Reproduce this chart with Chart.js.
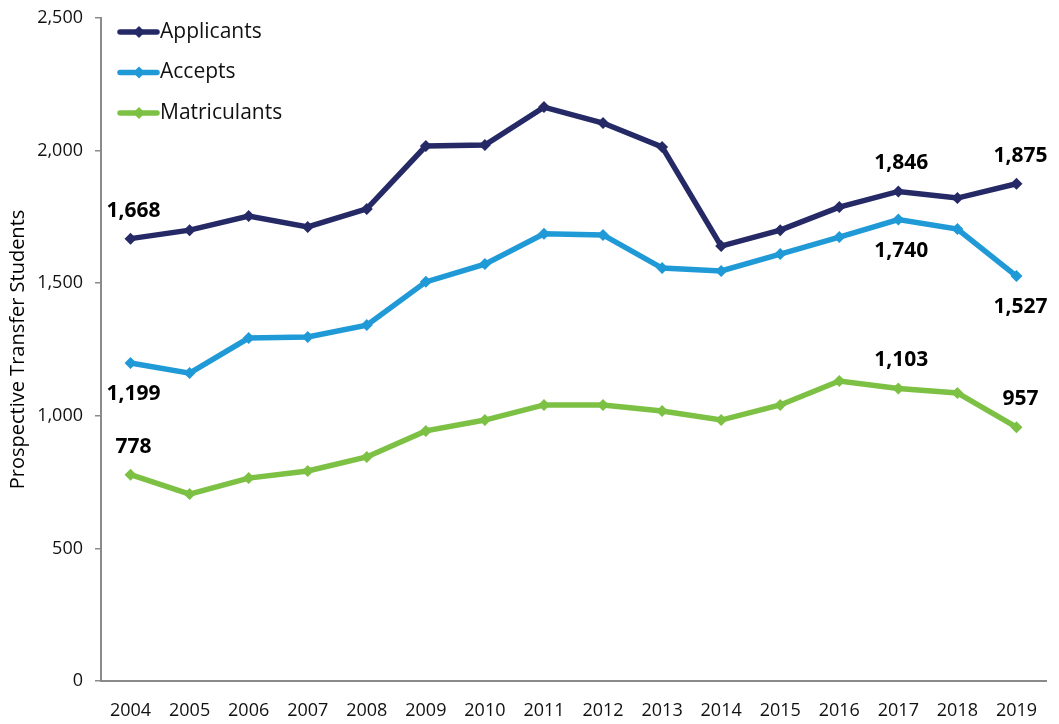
<!DOCTYPE html>
<html>
<head>
<meta charset="utf-8">
<style>
  html, body { margin: 0; padding: 0; background: #fff; }
  #wrap { width: 1059px; height: 724px; }
</style>
<script src="https://cdn.jsdelivr.net/npm/chart.js@4/dist/chart.umd.min.js"></script>
</head>
<body>
<div id="wrap"><canvas id="chart" width="1059" height="724"></canvas></div>
<script>
'use strict';

// ***** DATA *****
let years = ['2004', '2005', '2006', '2007', '2008', '2009', '2010', '2011',
  '2012', '2013', '2014', '2015', '2016', '2017', '2018', '2019'];
let applicants = [1668, 1700, 1753, 1712, 1780, 2017, 2021, 2164, 2104, 2014, 1640, 1700, 1787, 1846, 1821, 1875];
let accepts = [1199, 1161, 1293, 1297, 1342, 1505, 1572, 1686, 1682, 1557, 1546, 1610, 1674, 1740, 1704, 1527];
let matriculants = [778, 705, 765, 792, 845, 943, 984, 1041, 1041, 1018, 984, 1041, 1131, 1103, 1086, 957];
let seriesNames = ['Applicants', 'Accepts', 'Matriculants'];
let seriesColors = ['#252a67', '#209ad7', '#7cc144'];
let yTicks = [0, 500, 1000, 1500, 2000, 2500];

// which points get a value label, and whether above or below
let labelIndexes = [0, 13, 15];
let labelBelow = [false, true, false];

let fontName = '"Open Sans", "Noto Sans", sans-serif';

// ***** PLUGINS *****
let valueLabels = {
  id: 'valueLabels',
  afterDatasetsDraw(chart) {
    let ctx = chart.ctx;
    ctx.save();
    ctx.font = 'bold 21px ' + fontName;
    ctx.fillStyle = '#000';
    ctx.textAlign = 'center';
    ctx.textBaseline = 'middle';
    chart.data.datasets.forEach((ds, d) => {
      let meta = chart.getDatasetMeta(d);
      labelIndexes.forEach(i => {
        let pt = meta.data[i];
        let txt = ds.data[i].toLocaleString('en-US');
        let dy = labelBelow[d] ? 31 : -28;
        let dx = i === 15 ? 4 : 3;
        ctx.fillText(txt, pt.x + dx, pt.y + dy);
      });
    });
    ctx.restore();
  }
};

let cornerLegend = {
  id: 'cornerLegend',
  afterDraw(chart) {
    let ctx = chart.ctx;
    let left = chart.chartArea.left;
    let top = chart.chartArea.top;
    ctx.save();
    ctx.font = '21px ' + fontName;
    ctx.textBaseline = 'middle';
    seriesNames.forEach((name, i) => {
      let y = top + 14 + i * 40.5;
      ctx.strokeStyle = seriesColors[i];
      ctx.fillStyle = seriesColors[i];
      ctx.lineWidth = 5.5;
      ctx.lineCap = 'round';
      ctx.beginPath();
      ctx.moveTo(left + 19, y);
      ctx.lineTo(left + 56, y);
      ctx.stroke();
      ctx.beginPath();
      ctx.moveTo(left + 38, y - 6);
      ctx.lineTo(left + 44, y);
      ctx.lineTo(left + 38, y + 6);
      ctx.lineTo(left + 32, y);
      ctx.closePath();
      ctx.fill();
      ctx.fillStyle = '#111';
      ctx.fillText(name, left + 59, y);
    });
    ctx.restore();
  }
};

// ***** CHART *****
let datasets = [applicants, accepts, matriculants].map((vals, i) => ({
  label: seriesNames[i],
  data: vals,
  borderColor: seriesColors[i],
  backgroundColor: seriesColors[i],
  borderWidth: 5.5,
  pointStyle: 'rectRot',
  pointRadius: 6,
  pointHoverRadius: 6,
  pointBorderWidth: 0,
  tension: 0
}));

new Chart(document.getElementById('chart'), {
  type: 'line',
  data: { labels: years, datasets: datasets },
  options: {
    responsive: false,
    animation: false,
    layout: { padding: { top: 18, right: 13, left: 2, bottom: 0 } },
    plugins: {
      legend: { display: false },
      tooltip: { enabled: false }
    },
    scales: {
      x: {
        offset: true,
        afterFit(scale) {
          scale.height = 43;
        },
        grid: { display: false, drawTicks: false },
        border: { display: true, color: '#8a8a8a', width: 2 },
        ticks: { color: '#111', font: { family: fontName, size: 18 }, padding: 19, maxRotation: 0 }
      },
      y: {
        min: 0,
        max: 2500,
        afterBuildTicks(scale) {
          scale.ticks = yTicks.map(v => ({ value: v }));
        },
        afterFit(scale) {
          scale.width = 99;
          scale.paddingTop = 0;
          scale.paddingBottom = 0;
        },
        grid: { drawOnChartArea: false, drawTicks: true, tickLength: 6, color: '#8a8a8a', lineWidth: 1.5 },
        border: { display: true, color: '#8a8a8a', width: 2 },
        ticks: {
          color: '#111',
          font: { family: fontName, size: 18 },
          padding: 12,
          callback: v => v.toLocaleString('en-US')
        },
        title: {
          display: true,
          text: 'Prospective Transfer Students',
          color: '#000',
          font: { family: fontName, size: 20 },
          padding: { top: 4, bottom: 4 }
        }
      }
    }
  },
  plugins: [valueLabels, cornerLegend]
});
</script>
</body>
</html>
